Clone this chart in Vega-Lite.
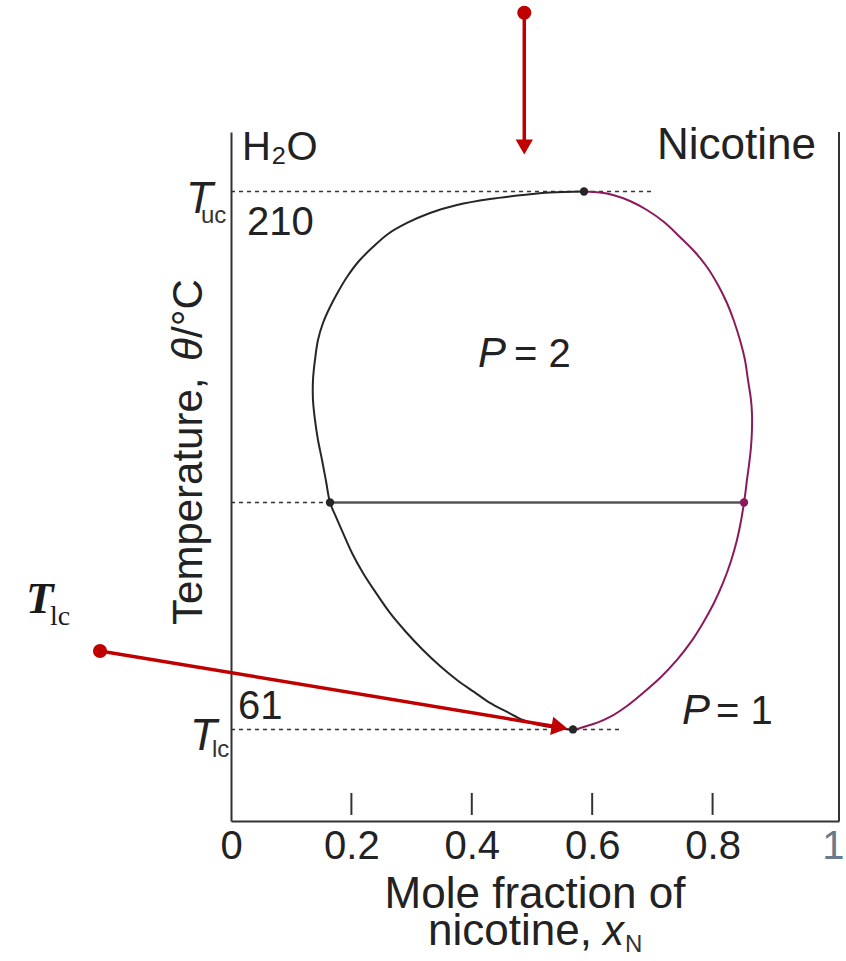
{
  "$schema": "https://vega.github.io/schema/vega-lite/v6.json",
  "width": 608,
  "height": 689,
  "autosize": {"type": "none"},
  "padding": {"left": 231, "top": 132, "right": 7, "bottom": 140},
  "background": "white",
  "config": {"view": {"stroke": null}, "text": {"font": "Liberation Sans", "color": "#222"}},
  "datasets": {
    "dashed": [
      {"x": 0, "x2": 0.701, "t": 210.02},
      {"x": 0, "x2": 0.1645, "t": 123.89},
      {"x": 0, "x2": 0.6495, "t": 61.02}
    ],
    "tie": [{"x": 0.1645, "x2": 0.8522, "t": 123.89}],
    "frame": [{"x": 1.01, "t": 226.5, "t2": 35.66}],
    "ticks": [
      {"x": 0.2, "t": 43.43, "t2": 37.34},
      {"x": 0.4, "t": 43.43, "t2": 37.34},
      {"x": 0.6, "t": 43.43, "t2": 37.34},
      {"x": 0.8, "t": 43.43, "t2": 37.34}
    ],
    "curve": [
      {"b": "L", "i": 1, "x": 0.5864, "t": 210.02},
      {"b": "L", "i": 2, "x": 0.5299, "t": 209.74},
      {"b": "L", "i": 3, "x": 0.4850, "t": 209.05},
      {"b": "L", "i": 4, "x": 0.4302, "t": 207.94},
      {"b": "L", "i": 5, "x": 0.3754, "t": 206.28},
      {"b": "L", "i": 6, "x": 0.3306, "t": 204.07},
      {"b": "L", "i": 7, "x": 0.2924, "t": 201.30},
      {"b": "L", "i": 8, "x": 0.2608, "t": 198.25},
      {"b": "L", "i": 9, "x": 0.2359, "t": 194.65},
      {"b": "L", "i": 10, "x": 0.2126, "t": 190.77},
      {"b": "L", "i": 11, "x": 0.1927, "t": 186.34},
      {"b": "L", "i": 12, "x": 0.1777, "t": 182.19},
      {"b": "L", "i": 13, "x": 0.1645, "t": 178.03},
      {"b": "L", "i": 14, "x": 0.1528, "t": 173.60},
      {"b": "L", "i": 15, "x": 0.1445, "t": 168.89},
      {"b": "L", "i": 16, "x": 0.1395, "t": 163.36},
      {"b": "L", "i": 17, "x": 0.1362, "t": 157.82},
      {"b": "L", "i": 18, "x": 0.1362, "t": 152.28},
      {"b": "L", "i": 19, "x": 0.1395, "t": 146.74},
      {"b": "L", "i": 20, "x": 0.1445, "t": 141.20},
      {"b": "L", "i": 21, "x": 0.1512, "t": 135.66},
      {"b": "L", "i": 22, "x": 0.1578, "t": 129.84},
      {"b": "L", "i": 23, "x": 0.1645, "t": 123.89},
      {"b": "L", "i": 24, "x": 0.1744, "t": 119.87},
      {"b": "L", "i": 25, "x": 0.1860, "t": 115.44},
      {"b": "L", "i": 26, "x": 0.2010, "t": 109.90},
      {"b": "L", "i": 27, "x": 0.2193, "t": 104.36},
      {"b": "L", "i": 28, "x": 0.2409, "t": 98.83},
      {"b": "L", "i": 29, "x": 0.2641, "t": 93.29},
      {"b": "L", "i": 30, "x": 0.2907, "t": 88.02},
      {"b": "L", "i": 31, "x": 0.3189, "t": 83.04},
      {"b": "L", "i": 32, "x": 0.3472, "t": 78.61},
      {"b": "L", "i": 33, "x": 0.3754, "t": 74.73},
      {"b": "L", "i": 34, "x": 0.4037, "t": 71.41},
      {"b": "L", "i": 35, "x": 0.4302, "t": 68.36},
      {"b": "L", "i": 36, "x": 0.4585, "t": 65.87},
      {"b": "L", "i": 37, "x": 0.4850, "t": 63.65},
      {"b": "L", "i": 38, "x": 0.5083, "t": 62.41},
      {"b": "L", "i": 39, "x": 0.5299, "t": 61.71},
      {"b": "L", "i": 40, "x": 0.5498, "t": 61.24},
      {"b": "L", "i": 41, "x": 0.5681, "t": 61.02},
      {"b": "R", "i": 1, "x": 0.5864, "t": 210.02},
      {"b": "R", "i": 2, "x": 0.6130, "t": 209.74},
      {"b": "R", "i": 3, "x": 0.6346, "t": 209.05},
      {"b": "R", "i": 4, "x": 0.6628, "t": 207.39},
      {"b": "R", "i": 5, "x": 0.6910, "t": 204.90},
      {"b": "R", "i": 6, "x": 0.7193, "t": 201.57},
      {"b": "R", "i": 7, "x": 0.7458, "t": 197.42},
      {"b": "R", "i": 8, "x": 0.7691, "t": 193.54},
      {"b": "R", "i": 9, "x": 0.7907, "t": 189.11},
      {"b": "R", "i": 10, "x": 0.8090, "t": 184.13},
      {"b": "R", "i": 11, "x": 0.8239, "t": 179.14},
      {"b": "R", "i": 12, "x": 0.8355, "t": 174.16},
      {"b": "R", "i": 13, "x": 0.8455, "t": 168.89},
      {"b": "R", "i": 14, "x": 0.8538, "t": 163.36},
      {"b": "R", "i": 15, "x": 0.8588, "t": 157.82},
      {"b": "R", "i": 16, "x": 0.8638, "t": 152.28},
      {"b": "R", "i": 17, "x": 0.8654, "t": 148.68},
      {"b": "R", "i": 18, "x": 0.8654, "t": 143.97},
      {"b": "R", "i": 19, "x": 0.8638, "t": 139.26},
      {"b": "R", "i": 20, "x": 0.8605, "t": 134.28},
      {"b": "R", "i": 21, "x": 0.8571, "t": 130.12},
      {"b": "R", "i": 22, "x": 0.8547, "t": 126.80},
      {"b": "R", "i": 23, "x": 0.8522, "t": 123.89},
      {"b": "R", "i": 24, "x": 0.8472, "t": 118.77},
      {"b": "R", "i": 25, "x": 0.8405, "t": 113.50},
      {"b": "R", "i": 26, "x": 0.8306, "t": 107.69},
      {"b": "R", "i": 27, "x": 0.8173, "t": 101.60},
      {"b": "R", "i": 28, "x": 0.8023, "t": 96.06},
      {"b": "R", "i": 29, "x": 0.7841, "t": 90.52},
      {"b": "R", "i": 30, "x": 0.7641, "t": 85.26},
      {"b": "R", "i": 31, "x": 0.7409, "t": 80.27},
      {"b": "R", "i": 32, "x": 0.7143, "t": 75.56},
      {"b": "R", "i": 33, "x": 0.6844, "t": 71.13},
      {"b": "R", "i": 34, "x": 0.6578, "t": 67.53},
      {"b": "R", "i": 35, "x": 0.6296, "t": 64.48},
      {"b": "R", "i": 36, "x": 0.6096, "t": 62.96},
      {"b": "R", "i": 37, "x": 0.5914, "t": 61.99},
      {"b": "R", "i": 38, "x": 0.5781, "t": 61.30},
      {"b": "R", "i": 39, "x": 0.5681, "t": 61.02}
    ],
    "dots": [
      {"b": "L", "x": 0.5864, "t": 210.02},
      {"b": "L", "x": 0.5681, "t": 61.02},
      {"b": "L", "x": 0.1645, "t": 123.89},
      {"b": "R", "x": 0.8522, "t": 123.89}
    ],
    "plainText": [
      {"label": "H₂O", "x": 0.0183, "t": 218.75},
      {"label": "210", "x": 0.0266, "t": 197.97},
      {"label": "61", "x": 0.0116, "t": 63.93},
      {"label": "= 2", "x": 0.4701, "t": 161.42},
      {"label": "= 1", "x": 0.8056, "t": 62.55}
    ],
    "wideText": [
      {"label": "Nicotine", "x": 0.7076, "t": 219.02},
      {"label": "nicotine,", "x": 0.3272, "t": 1.34}
    ],
    "titleText": [{"label": "Mole fraction of", "x": 0.505, "t": 11.59}],
    "italicBig": [
      {"label": "T", "x": -0.0748, "t": 204.07},
      {"label": "T", "x": -0.0681, "t": 55.34}
    ],
    "italicText": [
      {"label": "P", "x": 0.4103, "t": 161.42},
      {"label": "P", "x": 0.7492, "t": 62.55},
      {"label": "x", "x": 0.6179, "t": 1.34}
    ],
    "subText": [
      {"label": "uc", "x": -0.0498, "t": 201.30},
      {"label": "lc", "x": -0.0316, "t": 53.41},
      {"label": "N", "x": 0.6545, "t": -0.60}
    ],
    "yTitlePlain": [
      {"label": "Temperature,", "x": -0.0482, "t": 89.96},
      {"label": "/°C", "x": -0.0482, "t": 169.45}
    ],
    "yTitleItalic": [{"label": "θ", "x": -0.0482, "t": 163.08}],
    "arrows": [
      {"x": 0.4872, "t": 259.54, "x2": 0.4872, "t2": 222.35},
      {"x": -0.2176, "t": 82.76, "x2": 0.5458, "t2": 61.63}
    ],
    "arrowStart": [
      {"x": 0.4872, "t": 259.54},
      {"x": -0.2176, "t": 82.76}
    ],
    "headDown": [{"x": 0.4872, "t": 222.35}],
    "headRight": [{"x": 0.5458, "t": 61.63}],
    "serifT": [{"label": "T", "x": -0.3405, "t": 93.29}],
    "serifSub": [{"label": "lc", "x": -0.3007, "t": 89.96}]
  },
  "encoding": {
    "x": {"field": "x", "type": "quantitative", "scale": {"domain": [0, 1.01], "nice": false, "zero": false},
      "axis": {"values": [0, 0.2, 0.4, 0.6, 0.8, 1], "format": "~g", "ticks": false, "grid": false, "title": null,
        "domainColor": "#333", "domainWidth": 2, "labelFont": "Liberation Sans", "labelFontSize": 40,
        "labelColor": {"condition": {"test": "datum.value === 1", "value": "#6a7a8c"}, "value": "#222"},
        "labelBaseline": "alphabetic", "labelPadding": 37, "labelFlush": false, "labelOverlap": false}},
    "y": {"field": "t", "type": "quantitative", "scale": {"domain": [35.66, 226.5], "nice": false, "zero": false},
      "axis": {"labels": false, "ticks": false, "grid": false, "title": null, "domainColor": "#333", "domainWidth": 2}}
  },
  "layer": [
    {
      "data": {"name": "dashed"},
      "mark": {"type": "rule", "strokeDash": [4, 4], "stroke": "#333", "strokeWidth": 1.6},
      "encoding": {"x2": {"field": "x2"}}
    },
    {
      "data": {"name": "tie"},
      "mark": {"type": "rule", "stroke": "#555", "strokeWidth": 2.5},
      "encoding": {"x2": {"field": "x2"}}
    },
    {
      "data": {"name": "frame"},
      "mark": {"type": "rule", "stroke": "#333", "strokeWidth": 2},
      "encoding": {"y2": {"field": "t2"}}
    },
    {
      "data": {"name": "ticks"},
      "mark": {"type": "rule", "stroke": "#333", "strokeWidth": 2},
      "encoding": {"y2": {"field": "t2"}}
    },
    {
      "data": {"name": "curve"},
      "mark": {"type": "line", "interpolate": "catmull-rom", "strokeWidth": 2},
      "encoding": {
        "color": {"field": "b", "type": "nominal", "scale": {"domain": ["L", "R"], "range": ["#262626", "#8b1a5c"]}, "legend": null},
        "order": {"field": "i", "type": "quantitative"}
      }
    },
    {
      "data": {"name": "dots"},
      "mark": {"type": "point", "filled": true, "opacity": 1, "size": 70},
      "encoding": {
        "color": {"field": "b", "type": "nominal", "scale": {"domain": ["L", "R"], "range": ["#262626", "#8b1a5c"]}, "legend": null}
      }
    },
    {
      "data": {"name": "plainText"},
      "mark": {"type": "text", "align": "left", "baseline": "alphabetic", "fontSize": 40},
      "encoding": {"text": {"field": "label"}}
    },
    {
      "data": {"name": "wideText"},
      "mark": {"type": "text", "align": "left", "baseline": "alphabetic", "fontSize": 44},
      "encoding": {"text": {"field": "label"}}
    },
    {
      "data": {"name": "titleText"},
      "mark": {"type": "text", "align": "center", "baseline": "alphabetic", "fontSize": 44},
      "encoding": {"text": {"field": "label"}}
    },
    {
      "data": {"name": "italicBig"},
      "mark": {"type": "text", "align": "left", "baseline": "alphabetic", "fontSize": 44, "fontStyle": "italic"},
      "encoding": {"text": {"field": "label"}}
    },
    {
      "data": {"name": "italicText"},
      "mark": {"type": "text", "align": "left", "baseline": "alphabetic", "fontSize": 42, "fontStyle": "italic"},
      "encoding": {"text": {"field": "label"}}
    },
    {
      "data": {"name": "subText"},
      "mark": {"type": "text", "align": "left", "baseline": "alphabetic", "fontSize": 24, "color": "#333"},
      "encoding": {"text": {"field": "label"}}
    },
    {
      "data": {"name": "yTitlePlain"},
      "mark": {"type": "text", "align": "left", "baseline": "alphabetic", "fontSize": 42, "angle": 270},
      "encoding": {"text": {"field": "label"}}
    },
    {
      "data": {"name": "yTitleItalic"},
      "mark": {"type": "text", "align": "left", "baseline": "alphabetic", "fontSize": 42, "angle": 270, "fontStyle": "italic"},
      "encoding": {"text": {"field": "label"}}
    },
    {
      "data": {"name": "arrows"},
      "mark": {"type": "rule", "stroke": "#c00000", "strokeWidth": 3.5},
      "encoding": {"x2": {"field": "x2"}, "y2": {"field": "t2"}}
    },
    {
      "data": {"name": "arrowStart"},
      "mark": {"type": "point", "shape": "circle", "filled": true, "opacity": 1, "size": 200, "color": "#c00000"}
    },
    {
      "data": {"name": "headDown"},
      "mark": {"type": "point", "shape": "triangle-down", "filled": true, "opacity": 1, "size": 300, "color": "#c00000"}
    },
    {
      "data": {"name": "headRight"},
      "mark": {"type": "point", "shape": "triangle-right", "angle": 9.4, "filled": true, "opacity": 1, "size": 340, "color": "#c00000"}
    },
    {
      "data": {"name": "serifT"},
      "mark": {"type": "text", "align": "left", "baseline": "alphabetic", "font": "Liberation Serif", "fontSize": 45, "fontStyle": "italic", "fontWeight": "bold", "color": "#1a1a1a"},
      "encoding": {"text": {"field": "label"}}
    },
    {
      "data": {"name": "serifSub"},
      "mark": {"type": "text", "align": "left", "baseline": "alphabetic", "font": "Liberation Serif", "fontSize": 28, "color": "#1a1a1a"},
      "encoding": {"text": {"field": "label"}}
    }
  ]
}
